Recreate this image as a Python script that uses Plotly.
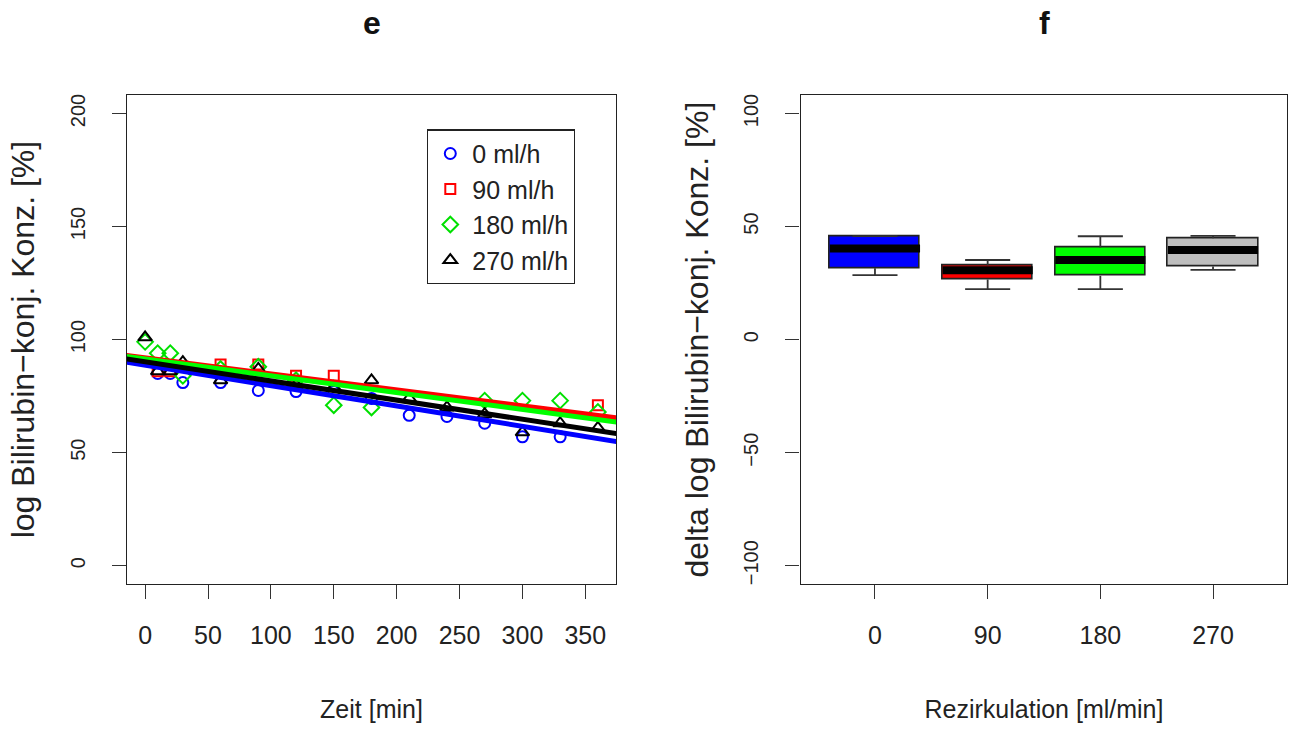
import plotly.graph_objects as go

# ---------------- data: panel e ----------------
times = [0, 10, 20, 30, 60, 90, 120, 150, 180, 210, 240, 270, 300, 330, 360]
series_names = ["0 ml/h", "90 ml/h", "180 ml/h", "270 ml/h"]
vals_0 = [None, 85, 85, 81, 81, 77.5, 77, 77, 74, 66.5, 66, 63, 57, 57, None]
vals_90 = [None, 86, 86, 88, 89, 89, 84, 84, None, None, None, None, None, None, 71]
vals_180 = [99, 94, 94, 84, 87, 88, 82, 71, 70, None, None, 73, 73, 73, 68]
vals_270 = [101, 86, 86, 90, 82, 87, 80, 79, 82, 74, 70, 67, 59, 63, 61]
fit_intercept = [88.65, 91.9, 91.4, 90.2]
fit_slope = [-0.090, -0.0707, -0.0743, -0.0848]

# ---------------- data: panel f ----------------
box_labels = ["0", "90", "180", "270"]
box_lower = [28.5, 22.3, 22.3, 30.8]
box_q1 = [31.6, 26.6, 28.2, 32.3]
box_median = [40.3, 30.7, 35.2, 39.6]
box_q3 = [45.8, 32.8, 40.7, 44.8]
box_upper = [45.8, 35.2, 45.7, 45.9]

# ---------------- style ----------------
W, H = 1294, 729
FONT = "Liberation Sans, Arial, sans-serif"
colors = ["#0000FF", "#FF0000", "#00E000", "#000000"]
symbols = ["circle-open", "square-open", "diamond-open", "triangle-up-open"]
msizes = [11, 10, 12, 12]
box_colors = ["#0000FF", "#FF0000", "#00FF00", "#BEBEBE"]

fig = go.Figure()

all_vals = [vals_0, vals_90, vals_180, vals_270]
for name, v, c, s, ms in zip(series_names, all_vals, colors, symbols, msizes):
    fig.add_trace(go.Scatter(
        x=times, y=v, mode="markers", name=name,
        marker=dict(symbol=s, size=ms, color=c, line=dict(width=2, color=c)),
        xaxis="x", yaxis="y", showlegend=True))

x_ends = [-30, 400]
line_colors = ["#0000FF", "#FF0000", "#00FF00", "#000000"]
for a, b, c in zip(fit_intercept, fit_slope, line_colors):
    fig.add_trace(go.Scatter(
        x=x_ends, y=[a + b * xe for xe in x_ends], mode="lines",
        line=dict(color=c, width=5), showlegend=False, hoverinfo="skip",
        xaxis="x", yaxis="y"))

# panel f: whiskers
pos = [1, 2, 3, 4]
wx, wy = [], []
for p, lo, q1, q3, up in zip(pos, box_lower, box_q1, box_q3, box_upper):
    wx += [p, p, None, p, p, None, p - 0.2, p + 0.2, None, p - 0.2, p + 0.2, None]
    wy += [q3, up, None, q1, lo, None, up, up, None, lo, lo, None]
fig.add_trace(go.Scatter(x=wx, y=wy, mode="lines", line=dict(color="#333333", width=1.8),
                         showlegend=False, hoverinfo="skip", xaxis="x2", yaxis="y2"))

fig.add_trace(go.Bar(
    x=pos, base=box_q1, y=[q3 - q1 for q1, q3 in zip(box_q1, box_q3)],
    width=0.8, marker=dict(color=box_colors, line=dict(color="#222222", width=1.6)),
    showlegend=False, xaxis="x2", yaxis="y2"))

mx, my = [], []
for p, m in zip(pos, box_median):
    mx += [p - 0.4, p + 0.4, None]
    my += [m, m, None]
fig.add_trace(go.Scatter(x=mx, y=my, mode="lines", line=dict(color="#000000", width=8),
                         showlegend=False, hoverinfo="skip", xaxis="x2", yaxis="y2"))

ydom = [1 - 584.2 / H, 1 - 93.8 / H]
axis_common = dict(showline=True, linecolor="#222222", linewidth=1.3, mirror=True,
                   showgrid=False, zeroline=False, ticks="outside", ticklen=14,
                   tickwidth=1.3, tickcolor="#333333")

fig.update_layout(
    width=W, height=H, margin=dict(l=0, r=0, t=0, b=0),
    paper_bgcolor="white", plot_bgcolor="white",
    font=dict(family=FONT, color="#222222"),
    xaxis=dict(domain=[127 / W, 616 / W], range=[-14.4, 374.4],
               tickvals=[0, 50, 100, 150, 200, 250, 300, 350],
               tickfont=dict(size=25), ticklabelstandoff=15,
               title=dict(text="Zeit [min]", font=dict(size=25), standoff=52),
               anchor="y", **axis_common),
    yaxis=dict(domain=ydom, range=[-8, 208], tickvals=[0, 50, 100, 150, 200],
               tickangle=-90, tickfont=dict(size=20), ticklabelstandoff=19,
               title=dict(text="log Bilirubin\u2212konj. Konz. [%]", font=dict(size=32), standoff=22),
               anchor="x", **axis_common),
    xaxis2=dict(domain=[800.6 / W, 1287.4 / W], range=[0.34, 4.66],
                tickvals=pos, ticktext=box_labels,
                tickfont=dict(size=25), ticklabelstandoff=15,
                title=dict(text="Rezirkulation [ml/min]", font=dict(size=25), standoff=52),
                anchor="y2", **axis_common),
    yaxis2=dict(domain=ydom, range=[-108, 108], tickvals=[-100, -50, 0, 50, 100],
                tickangle=-90, tickfont=dict(size=20), ticklabelstandoff=19,
                title=dict(text="delta log Bilirubin\u2212konj. Konz. [%]", font=dict(size=32), standoff=22),
                anchor="x2", **axis_common),
    legend=dict(x=427 / W, y=1 - 128 / H, xanchor="left", yanchor="top",
                bordercolor="#222222", borderwidth=1.3, bgcolor="white",
                font=dict(size=25, family=FONT), tracegroupgap=0, itemwidth=34),
    annotations=[
        dict(text="<b>e</b>", x=371.5 / W, y=1 - 21 / H, xref="paper", yref="paper",
             xanchor="center", yanchor="middle", showarrow=False,
             font=dict(size=32, family=FONT, color="#111111")),
        dict(text="<b>f</b>", x=1044 / W, y=1 - 21 / H, xref="paper", yref="paper",
             xanchor="center", yanchor="middle", showarrow=False,
             font=dict(size=32, family=FONT, color="#111111")),
    ],
    bargap=0,
)

fig.write_html("out.html")
